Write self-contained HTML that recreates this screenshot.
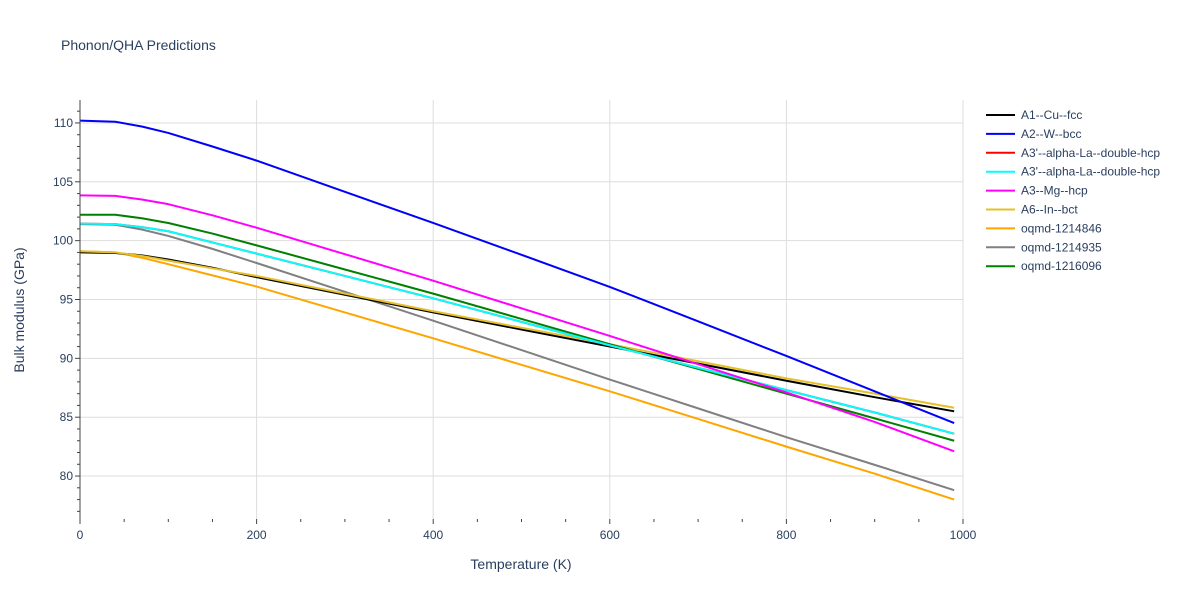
<!DOCTYPE html>
<html><head><meta charset="utf-8"><style>
body{margin:0;background:#fff;}
svg text{font-family:"Liberation Sans",Arial,sans-serif;fill:#2a3f5f;}
</style></head><body>
<svg id="chart" width="1200" height="600" viewBox="0 0 1200 600">
<rect width="1200" height="600" fill="#fff"/>
<text x="61" y="50" font-size="14">Phonon/QHA Predictions</text>
<g id="grid"></g>
<g id="series"></g>
<g id="axes"></g>
<g id="legend"></g>
<text x="521" y="569" font-size="14" text-anchor="middle">Temperature (K)</text>
<text x="0" y="0" font-size="14" text-anchor="middle" transform="translate(24,310) rotate(-90)">Bulk modulus (GPa)</text>
</svg>
<script>
const temps=[0,40,70,100,150,200,300,400,500,600,700,800,900,990];
const names=["A1--Cu--fcc","A2--W--bcc","A3'--alpha-La--double-hcp","A3'--alpha-La--double-hcp","A3--Mg--hcp","A6--In--bct","oqmd-1214846","oqmd-1214935","oqmd-1216096"];
const colors=["#000000","#0000ff","#ff0000","#00ffff","#ff00ff","#e6c02a","#ffa500","#808080","#008000"];
const cu=[99.0,98.95,98.75,98.4,97.7,96.9,95.4,93.9,92.45,91.0,89.55,88.1,86.7,85.5];
const w=[110.2,110.1,109.7,109.15,108.0,106.8,104.15,101.5,98.8,96.07,93.15,90.2,87.2,84.5];
const la1=[101.45,101.4,101.15,100.8,99.85,98.9,97.0,95.1,93.1,91.1,89.2,87.3,85.4,83.6];
const la2=[101.45,101.4,101.15,100.8,99.85,98.9,97.0,95.1,93.1,91.1,89.2,87.3,85.4,83.6];
const mg=[103.85,103.8,103.5,103.1,102.15,101.1,98.85,96.6,94.25,91.9,89.5,87.1,84.6,82.1];
const inb=[99.1,99.0,98.7,98.3,97.65,97.0,95.5,94.0,92.6,91.2,89.75,88.3,87.0,85.8];
const q846=[99.1,99.0,98.55,98.0,97.05,96.1,93.9,91.7,89.45,87.2,84.85,82.5,80.2,78.0];
const q935=[101.4,101.35,100.95,100.4,99.3,98.1,95.65,93.2,90.7,88.2,85.75,83.3,80.95,78.8];
const q096=[102.2,102.2,101.9,101.5,100.6,99.6,97.55,95.5,93.35,91.2,89.1,87.0,84.9,83.0];
const seriesVals=[cu,w,la1,la2,mg,inb,q846,q935,q096];
const xTicks=[0,200,400,600,800,1000];
const yTicks=[80,85,90,95,100,105,110];
const X0=80,X1=963,Y0=519,Y1=100,xmin=0,xmax=1000,ymin=76.35,ymax=111.95;
const xs=v=>X0+(v-xmin)/(xmax-xmin)*(X1-X0);
const ys=v=>Y0-(v-ymin)/(ymax-ymin)*(Y0-Y1);
const NS="http://www.w3.org/2000/svg";
function mk(tag,attrs,parent){const e=document.createElementNS(NS,tag);for(const k in attrs)e.setAttribute(k,attrs[k]);parent.appendChild(e);return e;}
const grid=document.getElementById('grid'),axes=document.getElementById('axes'),ser=document.getElementById('series'),leg=document.getElementById('legend');
xTicks.forEach(t=>{
 if(t>0){const g=mk('line',{x1:xs(t),x2:xs(t),y1:Y1,y2:Y0,stroke:'#ddd','stroke-width':1},grid);
 
 }
 const l=mk('text',{x:xs(t),y:Y0+20,'font-size':12,'text-anchor':'middle'},axes);l.textContent=t;
 
 
});
for(let t=0;t<=1000;t+=50){mk('line',{x1:xs(t),x2:xs(t),y1:Y0,y2:Y0+(t%200===0?5:3),stroke:'#444','stroke-width':1},axes);}
yTicks.forEach(t=>{
 const g=mk('line',{x1:X0,x2:X1,y1:ys(t),y2:ys(t),stroke:'#ddd','stroke-width':1},grid);
 
 
 const l=mk('text',{x:X0-7,y:ys(t)+4,'font-size':12,'text-anchor':'end'},axes);l.textContent=t;
 
 
});
for(let t=77;t<=111;t++){mk('line',{x1:X0,x2:X0-(t%5===0?5:3),y1:ys(t),y2:ys(t),stroke:'#444','stroke-width':1},axes);}
const ax=mk('line',{x1:X0,x2:X0,y1:Y1,y2:Y0,stroke:'#444','stroke-width':1},axes);


const order=[6,7,0,5,8,2,3,4,1];
order.forEach(i=>{
 const p=mk('polyline',{points:temps.map((t,j)=>xs(t)+','+ys(seriesVals[i][j])).join(' '),fill:'none',stroke:colors[i],'stroke-width':2,'stroke-linejoin':'round'},ser);
 
 
});
names.forEach((n,i)=>{
 const y=115+i*18.9;
 const g=mk('g',{},leg);
 
 
 mk('line',{x1:986,x2:1015,y1:y,y2:y,stroke:colors[i],'stroke-width':2},g);
 const t=mk('text',{x:1021,y:y+4,'font-size':12},g);t.textContent=n;
});
</script>
</body></html>
